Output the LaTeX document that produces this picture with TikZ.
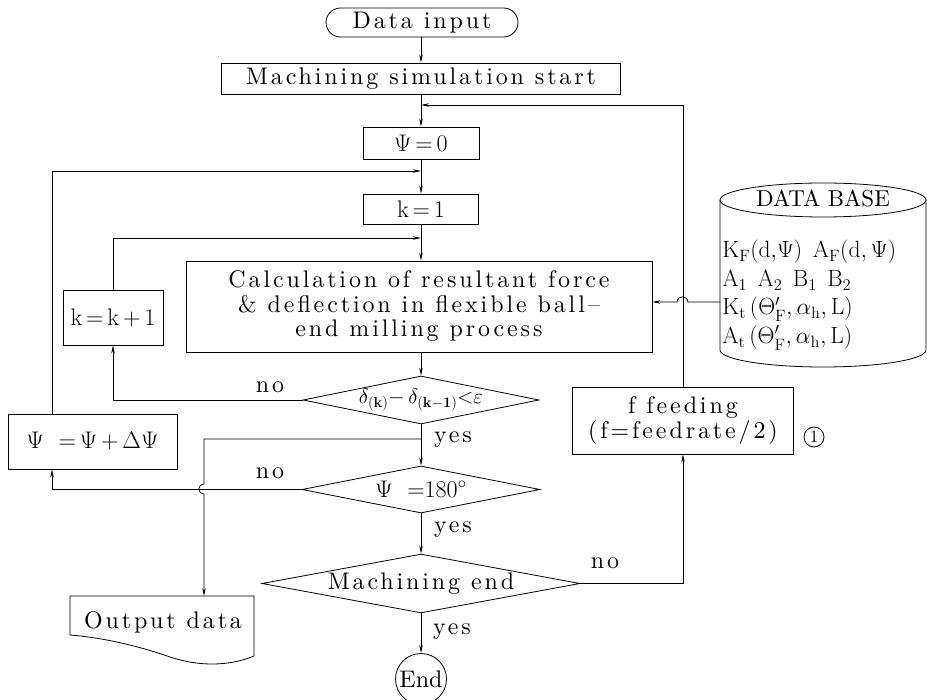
\documentclass[tikz,border=0pt]{standalone}
\usepackage{fix-cm}
\usepackage{amsmath}
\usepackage[no-math]{fontspec}
\setmainfont{lmroman10-regular}[Extension=.otf, LetterSpace=12]
\usepackage{tikz}
\usetikzlibrary{shapes.geometric,arrows.meta}

\begin{document}
\begin{tikzpicture}[x=1pt, y=-1pt, line width=0.8pt,
  every node/.style={font=\fontsize{24}{24.5}\selectfont},
  box/.style={draw, rectangle, inner sep=0pt},
  decision/.style={draw, diamond, inner sep=0pt, aspect=5},
  dbrow/.style={anchor=base west, inner sep=0pt, font=\fontsize{23.5}{28.5}\selectfont},
  flow/.style={-{Stealth[length=8pt,width=3.5pt]}}]

\useasboundingbox (0,0) rectangle (927,700);

% main column
\node [box, rounded corners=14.5pt, minimum width=192pt, minimum height=29pt] (input) at (422,22.5) {Data input};
\node [box, minimum width=399pt, minimum height=31pt] (simstart) at (421,78.5) {Machining simulation start};
\node [box, minimum width=116pt, minimum height=32pt] (psizero) at (421,143) {$\Psi\,{=}\,0$};
\node [box, minimum width=115pt, minimum height=30pt] (kone) at (421,209) {$\mathrm{k}\,{=}\,1$};
\node [box, minimum width=466pt, minimum height=91pt, align=center] (calc) at (419,306.5)
  {Calculation of resultant force\\ \& deflection in flexible ball--\\ end milling process};
\node [decision, minimum width=236pt, minimum height=48pt, font=\fontsize{21}{22}\selectfont] (converge) at (421,400)
  {$\delta_{(\mathbf{k})}{-}\,\delta_{(\mathbf{k-1})}{<}\varepsilon$};
\node [decision, minimum width=238pt, minimum height=47pt] (angle) at (421,489.5) {$\Psi\ \,{=}180^{\circ}$};
\node [decision, minimum width=318pt, minimum height=55pt] (finish) at (421,583.5) {Machining end};
\node [draw, circle, inner sep=0pt, minimum size=51pt,
       font=\fontsize{24}{24}\selectfont\addfontfeature{LetterSpace=0}] (stop) at (421,679) {End};

% side boxes
\node [box, minimum width=100pt, minimum height=55pt] (kinc) at (113,317.5) {$\mathrm{k}\,{=}\,\mathrm{k}\,{+}\,1$};
\node [box, minimum width=169pt, minimum height=55pt] (psiinc) at (92.5,441.5) {$\Psi\ \,{=}\,\Psi\,{+}\,\Delta\Psi$};
\node [box, minimum width=221pt, minimum height=67pt, align=center] (feed) at (683,420.5) {f feeding\\ (f=feedrate/2)};
\node [draw, circle, inner sep=0pt, minimum size=20pt, font=\fontsize{17}{17}\selectfont] (mark) at (814,437) {1};

% output document
\node (outdata) at (163,622) {Output data};
\draw (70,635) -- (70,596) -- (254,596) -- (254,656)
  .. controls (230,666) and (200,667) .. (170,657)
  .. controls (130,643) and (95,637) .. (70,635);
\coordinate (outtop) at (204,596);

% data base cylinder
\draw (823,200) ellipse [x radius=103, y radius=17];
\draw (720,200) -- (720,350) arc [start angle=180, end angle=0, x radius=103, y radius=17] -- (926,200);
\node [font=\fontsize{23}{23}\selectfont\addfontfeature{LetterSpace=0}] (dbtitle) at (823,199) {DATA BASE};
\node [dbrow] (dbrowa) at (722,258) {$\mathrm{K_F(d,}\Psi\mathrm{)}\ \mathrm{A_F(d,\,}\Psi\mathrm{)}$};
\node [dbrow] (dbrowb) at (722,286.5) {$\mathrm{A_1\;\,A_2\;\,B_1\;\,B_2}$};
\node [dbrow] (dbrowc) at (722,315) {$\mathrm{K_t\,(}\Theta_{\mathrm{F}}^{\smash{\prime}},\alpha_{\mathrm{h}},\mathrm{L)}$};
\node [dbrow] (dbrowd) at (722,343.5) {$\mathrm{A_t\,(}\Theta_{\mathrm{F}}^{\smash{\prime}},\alpha_{\mathrm{h}},\mathrm{L)}$};
\coordinate (dbout) at (720,302);

% joins on the main line
\coordinate (feedjoin) at (421,105);
\coordinate (psijoin) at (421,171);
\coordinate (kjoin) at (421,238);
\coordinate (outjoin) at (421,439);
\coordinate (psiline) at (52,0);

\draw [flow] (input.south -| simstart) -- (simstart);
\draw [flow] (simstart) -- (psizero);
\draw [flow] (psizero) -- (kone);
\draw [flow] (kone) -- (kone.south |- calc.north);
\draw [flow] (calc.south -| converge) -- (converge);
\draw [flow] (converge) -- (angle);
\draw [flow] (angle) -- (finish);
\draw [flow] (finish) -- (stop);

% k loop
\draw [flow] (converge.west) -| (kinc.south);
\draw [flow] (kinc.north) |- (kjoin);
% psi loop
\draw [flow] (angle.west) -| (psiinc.south -| psiline);
\draw [flow] (psiinc.north -| psiline) |- (psijoin);
% feed loop
\draw [flow] (finish.east) -| (feed.south);
\draw [flow] (feed.north) |- (feedjoin);
% output branch, hopping over the psi loop
\draw [flow] (outjoin) -| (204,484) .. controls (197,485) and (197,493) .. (204,494) -- (outtop);
% data base into the calculation, hopping over the feed loop
\draw [flow] (dbout) -- (688,302) .. controls (687,295) and (678,295) .. (677,302) -- (calc.east |- dbout);

% branch labels
\node (no1) at (270,387) {no};
\node (no2) at (270,473) {no};
\node (no3) at (605,563) {no};
\node (yes1) at (453,440) {yes};
\node (yes2) at (453,530) {yes};
\node (yes3) at (452,632) {yes};

\end{tikzpicture}
\end{document}
